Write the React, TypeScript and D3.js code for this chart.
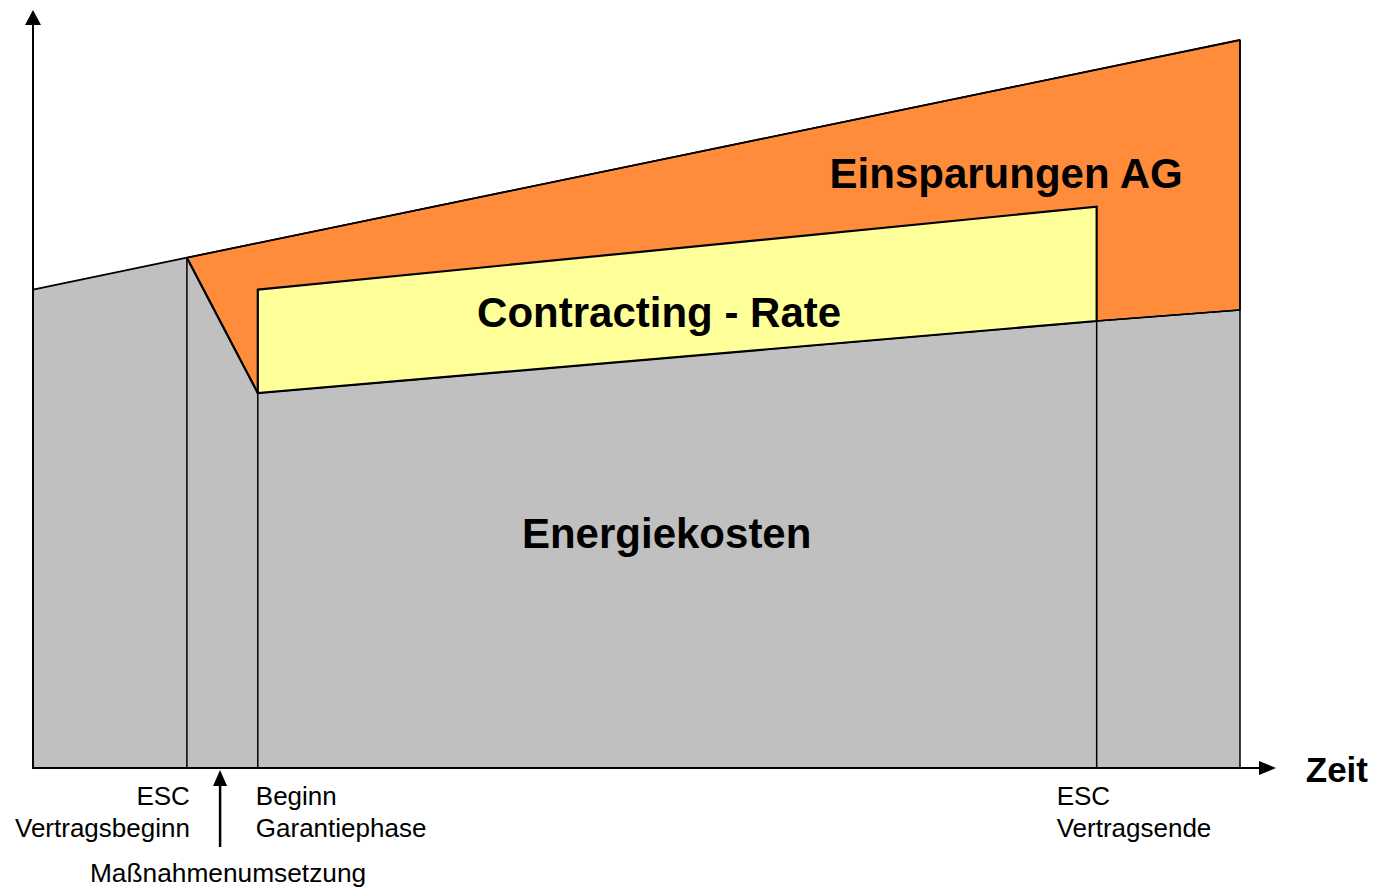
import React from 'react';
import * as d3 from 'd3';

// Zeitachse (Jahre, grob) und Kosten (relativ, 0..100)
const zeit = [0, 2.04, 2.98, 14.1, 16];
const kostenOhneMassnahmen = [65.7, 70.1, null, null, 100];
const energiekosten = [65.7, 70.1, 51.5, 61.4, 62.9];
const contractingRateOben = [null, null, 65.7, 77.1, null];

const meilensteine = [
  { t: 2.04, zeilen: ['ESC', 'Vertragsbeginn'], anchor: 'end', dx: 3 },
  { t: 2.98, zeilen: ['Beginn', 'Garantiephase'], anchor: 'start', dx: -2 },
  { t: 14.1, zeilen: ['ESC', 'Vertragsende'], anchor: 'start', dx: -40 },
];
const umsetzungT = 2.48;

const flaechenLabels = [
  { text: 'Einsparungen AG', t: 12.9, v: 79.7 },
  { text: 'Contracting - Rate', t: 8.3, v: 60.6 },
  { text: 'Energiekosten', t: 8.4, v: 30.2 },
];

const GRAU = '#c0c0c0';
const ORANGE = '#ff8c3b';
const GELB = '#ffff99';

export default function App() {
  const width = 1374;
  const height = 887;

  const x = d3.scaleLinear().domain([0, 16]).range([33, 1240]);
  const y = d3.scaleLinear().domain([0, 100]).range([768, 40]);

  const pts = (idx: number[], vals: (number | null)[]) =>
    idx.map(i => [x(zeit[i]), y(vals[i] as number)] as [number, number]);

  const poly = d3.line();

  // graue Fläche: Energiekosten
  const grau = [
    [x(0), y(0)] as [number, number],
    ...pts([0, 1, 2, 3, 4], energiekosten),
    [x(16), y(0)] as [number, number],
  ];

  // orange: Einsparungen (zwischen Kosten ohne Maßnahmen und Energiekosten)
  const orange = [
    ...pts([1, 4], kostenOhneMassnahmen),
    ...pts([4, 3, 2, 1], energiekosten),
  ];

  // gelb: Contracting-Rate
  const gelb = [
    ...pts([2, 3], contractingRateOben),
    ...pts([3, 2], energiekosten),
  ];

  const font = 'Liberation Sans, Arial, sans-serif';

  return (
    <svg
      width={width}
      height={height}
      style={{ position: 'absolute', left: 0, top: 0, background: '#fff' }}
    >
      <path d={poly(grau) + 'Z'} fill={GRAU} stroke="none" />
      <path d={poly(orange) + 'Z'} fill={ORANGE} stroke="#000" strokeWidth={1.5} strokeLinejoin="round" />

      {/* Kosten ohne Maßnahmen, obere Kante */}
      <path d={poly(pts([0, 1, 4], kostenOhneMassnahmen))!} fill="none" stroke="#000" strokeWidth={1.8} />
      {/* rechter Rand */}
      <line x1={x(16)} x2={x(16)} y1={y(0)} y2={y(100)} stroke="#000" strokeWidth={1.5} />
      {/* Abfall nach Vertragsbeginn */}
      <path d={poly(pts([1, 2], energiekosten))!} fill="none" stroke="#000" strokeWidth={2.2} />
      {/* Energiekosten-Kante rechts */}
      <path d={poly(pts([3, 4], energiekosten))!} fill="none" stroke="#000" strokeWidth={1.5} />

      {/* vertikale Trennlinien */}
      <line x1={x(zeit[1])} x2={x(zeit[1])} y1={y(0)} y2={y(energiekosten[1])} stroke="#000" strokeWidth={1.5} />
      <line x1={x(zeit[2])} x2={x(zeit[2])} y1={y(0)} y2={y(energiekosten[2])} stroke="#000" strokeWidth={1.5} />
      <line x1={x(zeit[3])} x2={x(zeit[3])} y1={y(0)} y2={y(energiekosten[3])} stroke="#000" strokeWidth={1.5} />

      <path d={poly(gelb) + 'Z'} fill={GELB} stroke="#000" strokeWidth={2.2} strokeLinejoin="miter" />

      {/* Achsen */}
      <line x1={x(0)} x2={x(0)} y1={y(0) + 1} y2={24} stroke="#000" strokeWidth={2} />
      <path d={`M${x(0)},10 L${x(0) - 8},25 L${x(0) + 8},25 Z`} fill="#000" />
      <line x1={x(0) - 1} x2={1262} y1={y(0)} y2={y(0)} stroke="#000" strokeWidth={2} />
      <path d={`M1276,${y(0)} L1259,${y(0) - 7} L1259,${y(0) + 7} Z`} fill="#000" />
      <text x={1368} y={782} textAnchor="end" fontFamily={font} fontWeight="bold" fontSize={35} fill="#000">
        Zeit
      </text>

      {/* Meilensteine */}
      {meilensteine.map(m => (
        <text
          key={m.zeilen.join('-')}
          x={x(m.t) + m.dx}
          y={805}
          textAnchor={m.anchor}
          fontFamily={font}
          fontSize={26}
          fill="#000"
        >
          {m.zeilen.map((z, i) => (
            <tspan key={z} x={x(m.t) + m.dx} dy={i === 0 ? 0 : 32}>
              {z}
            </tspan>
          ))}
        </text>
      ))}

      {/* Maßnahmenumsetzung */}
      <line x1={x(umsetzungT)} x2={x(umsetzungT)} y1={847} y2={784} stroke="#000" strokeWidth={2.5} />
      <path
        d={`M${x(umsetzungT)},770 L${x(umsetzungT) - 7},786 L${x(umsetzungT) + 7},786 Z`}
        fill="#000"
      />
      <text x={x(umsetzungT) + 8} y={882} textAnchor="middle" fontFamily={font} fontSize={26.3} fill="#000">
        Maßnahmenumsetzung
      </text>

      {/* Flächenbeschriftungen */}
      {flaechenLabels.map(l => (
        <text
          key={l.text}
          x={x(l.t)}
          y={y(l.v)}
          textAnchor="middle"
          fontFamily={font}
          fontWeight="bold"
          fontSize={42}
          fill="#000"
        >
          {l.text}
        </text>
      ))}
    </svg>
  );
}
